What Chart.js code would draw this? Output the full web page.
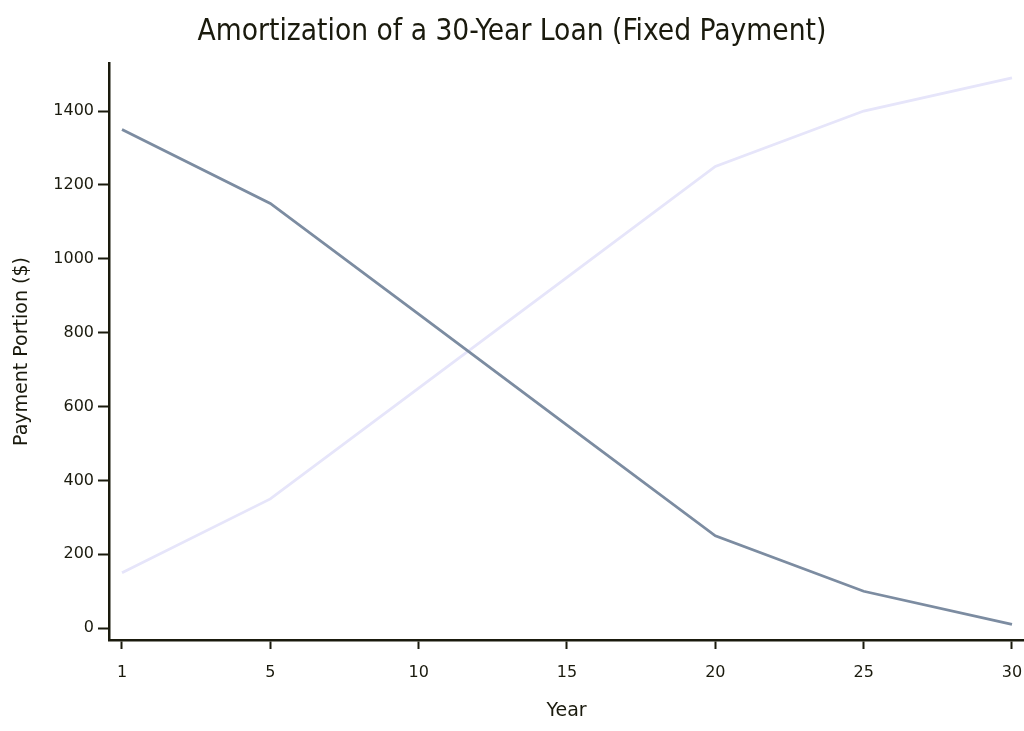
<!DOCTYPE html>
<html>
<head>
<meta charset="utf-8">
<script src="https://cdn.jsdelivr.net/npm/chart.js@4"></script>
<style>
  html, body { margin: 0; padding: 0; background: #fff; }
  #wrap { width: 1024px; height: 731px; }
</style>
</head>
<body>
<div id="wrap"><canvas id="lineChart"></canvas></div>
<script>
// years shown on the x axis (evenly spaced categories)
const years = ["1", "5", "10", "15", "20", "25", "30"];
const interestPart = [1350, 1150, 850, 550, 250, 100, 10];
const principalPart = [150, 350, 650, 950, 1250, 1400, 1490];
const yTicks = [0, 200, 400, 600, 800, 1000, 1200, 1400];

const ink = "#1a1a0d";
const titleFont = "'DejaVu Sans Condensed', 'DejaVu Sans', sans-serif";
const bodyFont = "'DejaVu Sans', sans-serif";

function toPoints(values) {
  return values.map((v, i) => ({ x: i, y: v }));
}

const data = {
  datasets: [
    {
      label: "Interest",
      data: toPoints(interestPart),
      borderColor: "#7c8ca1",
      borderWidth: 2.8,
      pointRadius: 0,
      tension: 0,
    },
    {
      label: "Principal",
      data: toPoints(principalPart),
      borderColor: "#e6e5fa",
      borderWidth: 2.8,
      pointRadius: 0,
      tension: 0,
    },
  ],
};

const config = {
  type: "line",
  data: data,
  options: {
    responsive: true,
    maintainAspectRatio: false,
    animation: false,
    layout: { padding: { top: 4, right: 0, left: 0, bottom: 0 } },
    plugins: {
      legend: { display: false },
      tooltip: { enabled: false },
      title: {
        display: true,
        text: "Amortization of a 30-Year Loan (Fixed Payment)",
        color: ink,
        font: { family: titleFont, size: 29.6, weight: "normal", lineHeight: 1.2 },
        padding: { top: 11, bottom: 12.5 },
      },
    },
    scales: {
      x: {
        type: "linear",
        min: -0.0876,
        max: 6.081,
        afterBuildTicks: (axis) => {
          axis.ticks = years.map((_, i) => ({ value: i }));
        },
        afterFit: (axis) => {
          axis.height = 91;
          axis.paddingLeft = 0;
          axis.paddingRight = 0;
        },
        ticks: {
          autoSkip: false,
          maxRotation: 0,
          color: ink,
          padding: 14,
          font: { family: bodyFont, size: 16 },
          callback: (value) => years[value],
        },
        grid: {
          drawOnChartArea: false,
          drawTicks: true,
          tickLength: 9,
          tickWidth: 2,
          tickColor: ink,
        },
        border: { display: true, color: ink, width: 2.5 },
        title: {
          display: true,
          text: "Year",
          color: ink,
          font: { family: bodyFont, size: 19 },
          padding: { top: 0, bottom: 9 },
        },
      },
      y: {
        min: -32,
        max: 1530,
        afterBuildTicks: (axis) => {
          axis.ticks = yTicks.map((v) => ({ value: v }));
        },
        afterFit: (axis) => {
          axis.width = 109;
          axis.paddingTop = 0;
          axis.paddingBottom = 0;
        },
        ticks: {
          color: ink,
          padding: 4,
          font: { family: bodyFont, size: 16 },
          callback: (value) => String(value),
        },
        grid: {
          drawOnChartArea: false,
          drawTicks: true,
          tickLength: 11,
          tickWidth: 2,
          tickColor: ink,
        },
        border: { display: true, color: ink, width: 2.5 },
        title: {
          display: true,
          text: "Payment Portion ($)",
          color: ink,
          font: { family: bodyFont, size: 19 },
          padding: { top: 11, bottom: 0 },
        },
      },
    },
  },
};

const lineChart = document.getElementById("lineChart");
chart = new Chart(lineChart, config);
</script>
</body>
</html>
